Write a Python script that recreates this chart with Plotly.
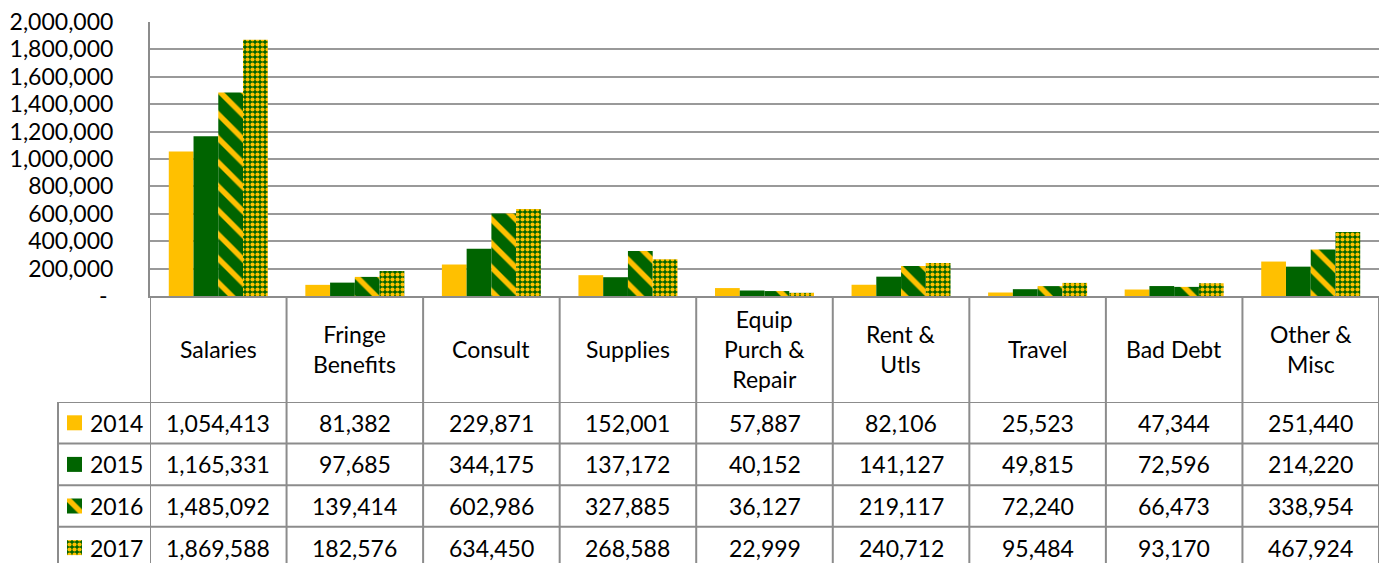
import plotly.graph_objects as go

# ---------------- data ----------------
categories = ["Salaries", "Fringe Benefits", "Consult", "Supplies", "Equip Purch & Repair",
              "Rent & Utls", "Travel", "Bad Debt", "Other & Misc"]
category_labels = ["Salaries", "Fringe<br>Benefits", "Consult", "Supplies", "Equip<br>Purch &<br>Repair",
                   "Rent &<br>Utls", "Travel", "Bad Debt", "Other &<br>Misc"]
years = ["2014", "2015", "2016", "2017"]
v2014 = [1054413, 81382, 229871, 152001, 57887, 82106, 25523, 47344, 251440]
v2015 = [1165331, 97685, 344175, 137172, 40152, 141127, 49815, 72596, 214220]
v2016 = [1485092, 139414, 602986, 327885, 36127, 219117, 72240, 66473, 338954]
v2017 = [1869588, 182576, 634450, 268588, 22999, 240712, 95484, 93170, 467924]
series_values = [v2014, v2015, v2016, v2017]
y_tickvals = [0, 200000, 400000, 600000, 800000, 1000000, 1200000, 1400000, 1600000, 1800000, 2000000]
y_ticktext = ["-\u00a0", "200,000", "400,000", "600,000", "800,000", "1,000,000", "1,200,000",
              "1,400,000", "1,600,000", "1,800,000", "2,000,000"]

# ---------------- styling ----------------
W, H = 1382, 563
YELLOW = "#FFC000"
GREEN = "#006400"
GRID = "#999999"
TABLE = "#8c8c8c"
FONT = "Lato"
FS = 23


def px_x(p):
    return p / W


def px_y(p):
    return (H - p) / H


markers = [
    dict(color=YELLOW, line=dict(width=0)),
    dict(color=GREEN, line=dict(width=0)),
    dict(color=GREEN, line=dict(width=0),
         pattern=dict(shape="\\", fgcolor=YELLOW, bgcolor=GREEN, size=17, solidity=0.32,
                      fillmode="overlay", fgopacity=1)),
    dict(color=GREEN, line=dict(width=0),
         pattern=dict(shape=".", fgcolor=YELLOW, bgcolor=GREEN, size=5, solidity=0.55,
                      fillmode="overlay", fgopacity=1)),
]

fig = go.Figure()
for yr, vals, mk in zip(years, series_values, markers):
    fig.add_trace(go.Bar(x=categories, y=vals, name=yr, marker=mk, showlegend=False,
                         hoverinfo="x+y+name"))

# legend keys inside the data table (row index = position of year)
ROW = 41.6
for idx, (yr, mk) in enumerate(zip(years, markers)):
    fig.add_trace(go.Bar(x=[1], y=[idx], orientation="h", xaxis="x2", yaxis="y2", width=15 / ROW,
                         marker=mk, showlegend=False, hoverinfo="skip", name=yr))

top_table = 402
y2_bottom = -0.5 + (H - top_table) / ROW

fig.update_layout(
    width=W, height=H, autosize=False,
    margin=dict(l=0, r=0, t=0, b=0, pad=0),
    paper_bgcolor="white", plot_bgcolor="rgba(0,0,0,0)",
    font=dict(family=FONT, size=FS, color="black"),
    barmode="group", bargap=0.275, bargroupgap=0,
    xaxis=dict(domain=[px_x(150), px_x(1379)], type="category", categoryarray=categories,
               range=[-0.5, len(categories) - 0.5], showticklabels=False, showgrid=False,
               showline=True, linecolor=TABLE, linewidth=2, ticks="", fixedrange=True,
               automargin=False),
    yaxis=dict(domain=[px_y(296), px_y(22)], range=[0, 2000000], tickvals=y_tickvals,
               ticktext=y_ticktext, showgrid=True, gridcolor=GRID, gridwidth=1.5,
               showline=True, linecolor=TABLE, linewidth=2, zeroline=False, ticks="",
               ticklabelstandoff=30, tickfont=dict(size=FS, family=FONT), fixedrange=True,
               automargin=False),
    xaxis2=dict(domain=[px_x(67), px_x(82)], range=[0, 1], visible=False, anchor="y2",
                fixedrange=True),
    yaxis2=dict(domain=[0, px_y(top_table)], type="linear",
                range=[y2_bottom, -0.5], visible=False, anchor="x2", fixedrange=True),
)

shapes = []
# horizontal table lines
for k in range(len(years)):
    shapes.append(dict(type="line", xref="paper", yref="y2", x0=px_x(58), x1=px_x(1379),
                       y0=k - 0.5, y1=k - 0.5, line=dict(color=TABLE, width=2)))
# vertical category separators
for i in range(len(categories) + 1):
    shapes.append(dict(type="line", xref="x", yref="paper", x0=i - 0.5, x1=i - 0.5,
                       y0=0, y1=px_y(296), line=dict(color=TABLE, width=2)))
# left edge of table
shapes.append(dict(type="line", xref="paper", yref="paper", x0=px_x(58), x1=px_x(58),
                   y0=0, y1=px_y(top_table), line=dict(color=TABLE, width=2)))
fig.update_layout(shapes=shapes)

ann = []
for cat, lab in zip(categories, category_labels):
    ann.append(dict(xref="x", yref="paper", x=cat, y=px_y(349), text=lab, showarrow=False,
                    xanchor="center", yanchor="middle", align="center",
                    font=dict(size=FS, family=FONT, color="black")))
for idx, (yr, vals) in enumerate(zip(years, series_values)):
    ann.append(dict(xref="paper", yref="y2", x=px_x(88), y=idx, text=yr, showarrow=False,
                    xanchor="left", yanchor="middle", font=dict(size=FS, family=FONT, color="black")))
    for cat, v in zip(categories, vals):
        ann.append(dict(xref="x", yref="y2", x=cat, y=idx, text=f"{v:,}", showarrow=False,
                        xanchor="center", yanchor="middle",
                        font=dict(size=FS, family=FONT, color="black")))
fig.update_layout(annotations=ann)

fig.write_html("out.html", config={"displayModeBar": False},
               post_script="document.body.style.margin='0';document.body.style.overflow='hidden';")
